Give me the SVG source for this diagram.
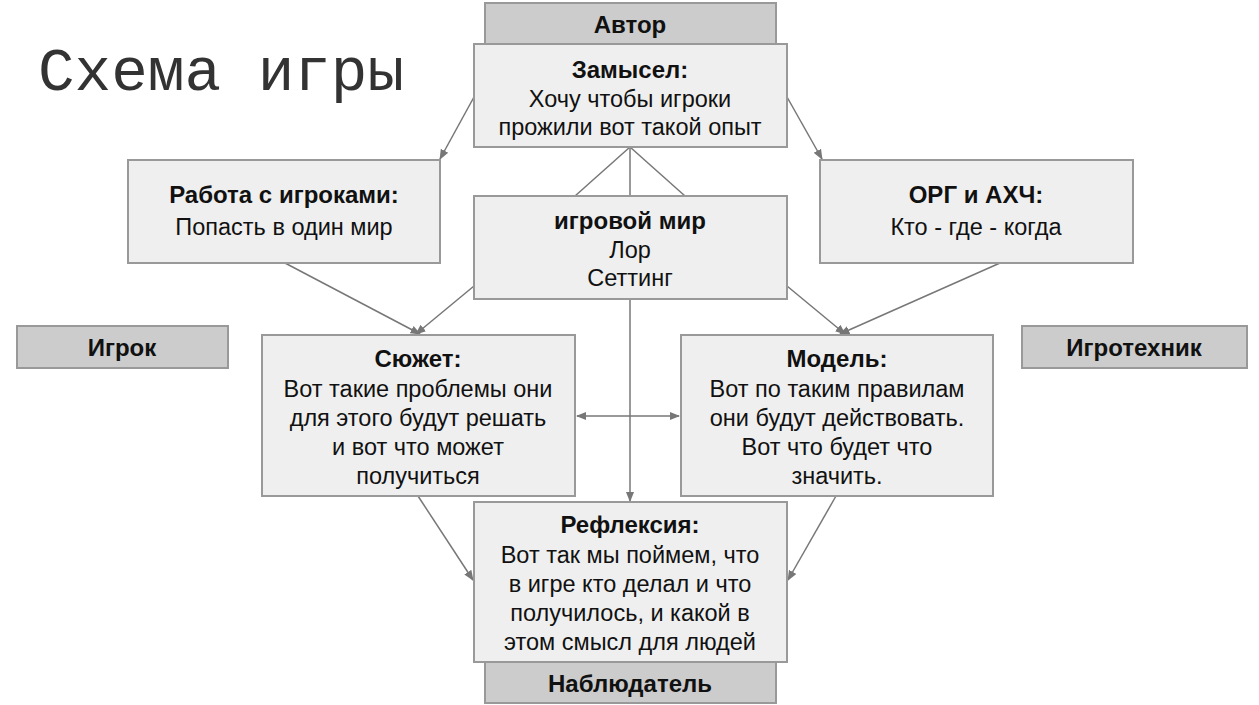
<svg xmlns="http://www.w3.org/2000/svg" width="1259" height="705" viewBox="0 0 1259 705">
<defs>
<style>
.b{fill:#efefef;stroke:#999;stroke-width:2}
.g{fill:#ccc;stroke:#999;stroke-width:2}
text{font-family:"Liberation Sans",Arial,sans-serif;font-size:23.5px;fill:#111;text-anchor:middle}
.h{font-weight:bold;font-size:24px}
.c line{stroke:#777;stroke-width:1.5}
</style>
<marker id="a" viewBox="0 0 10 10" refX="9" refY="5" markerWidth="7" markerHeight="7" orient="auto-start-reverse"><path d="M0,1 L10,5 L0,9 z" fill="#777"/></marker>
</defs>
<rect width="1259" height="705" fill="#fff"/>
<text x="38" y="90" style="font-family:'Liberation Mono',monospace;font-size:61px;fill:#333;text-anchor:start">Схема игры</text>
<g class="c">
<line x1="630" y1="147" x2="575" y2="196"/>
<line x1="630" y1="147" x2="630" y2="196"/>
<line x1="630" y1="147" x2="685" y2="196"/>
<line x1="474" y1="97" x2="440" y2="159" marker-end="url(#a)"/>
<line x1="787" y1="97" x2="822" y2="159" marker-end="url(#a)"/>
<line x1="285" y1="263" x2="420" y2="334" marker-end="url(#a)"/>
<line x1="474" y1="286" x2="416" y2="334" marker-end="url(#a)"/>
<line x1="1000" y1="263" x2="840" y2="334" marker-end="url(#a)"/>
<line x1="787" y1="286" x2="845" y2="334" marker-end="url(#a)"/>
<line x1="630" y1="299" x2="630" y2="501" marker-end="url(#a)"/>
<line x1="577" y1="416" x2="679" y2="416" marker-start="url(#a)" marker-end="url(#a)"/>
<line x1="418" y1="496" x2="473" y2="580" marker-end="url(#a)"/>
<line x1="836" y1="496" x2="788" y2="580" marker-end="url(#a)"/>
</g>
<g id="avtor"><rect class="g" x="485" y="3" width="291" height="41"/><text class="h" x="630" y="33">Автор</text></g>
<g id="zamysel"><rect class="b" x="474" y="44" width="313" height="103"/><text class="h" x="630" y="78">Замысел:</text><text x="630" y="107">Хочу чтобы игроки</text><text x="630" y="135">прожили вот такой опыт</text></g>
<g id="rabota"><rect class="b" x="128" y="160" width="312" height="103"/><text class="h" x="284" y="203">Работа с игроками:</text><text x="284" y="235">Попасть в один мир</text></g>
<g id="org"><rect class="b" x="820" y="160" width="313" height="103"/><text class="h" x="976" y="203">ОРГ и АХЧ:</text><text x="976" y="235">Кто - где - когда</text></g>
<g id="mir"><rect class="b" x="474" y="196" width="313" height="103"/><text class="h" x="630" y="229">игровой мир</text><text x="630" y="258">Лор</text><text x="630" y="286">Сеттинг</text></g>
<g id="igrok"><rect class="g" x="17" y="326" width="211" height="42"/><text class="h" x="122" y="356">Игрок</text></g>
<g id="igrotehnik"><rect class="g" x="1022" y="326" width="225" height="42"/><text class="h" x="1134" y="356">Игротехник</text></g>
<g id="syuzhet"><rect class="b" x="262" y="335" width="313" height="161"/><text class="h" x="418" y="367">Сюжет:</text><text x="418" y="397">Вот такие проблемы они</text><text x="418" y="426">для этого будут решать</text><text x="418" y="455">и вот что может</text><text x="418" y="484">получиться</text></g>
<g id="model"><rect class="b" x="681" y="335" width="312" height="161"/><text class="h" x="837" y="367">Модель:</text><text x="837" y="397">Вот по таким правилам</text><text x="837" y="426">они будут действовать.</text><text x="837" y="455">Вот что будет что</text><text x="837" y="484">значить.</text></g>
<g id="refleksiya"><rect class="b" x="474" y="502" width="313" height="160"/><text class="h" x="630" y="533">Рефлексия:</text><text x="630" y="563">Вот так мы поймем, что</text><text x="630" y="592">в игре кто делал и что</text><text x="630" y="621">получилось, и какой в</text><text x="630" y="650">этом смысл для людей</text></g>
<g id="nablyudatel"><rect class="g" x="485" y="662" width="291" height="41"/><text class="h" x="630" y="692">Наблюдатель</text></g>
</svg>
